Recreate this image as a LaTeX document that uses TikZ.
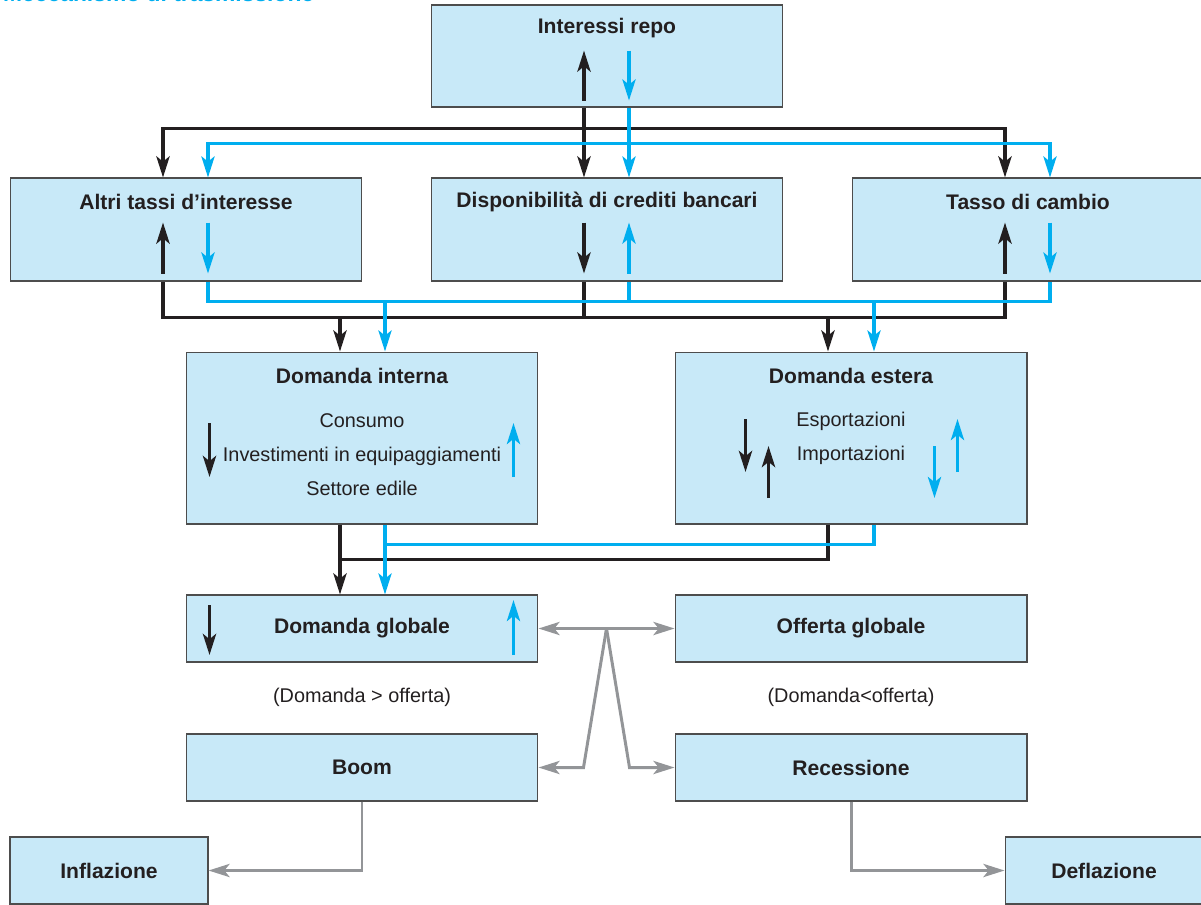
\documentclass[tikz,border=0pt]{standalone}
\usepackage{fontspec}
\setmainfont{Liberation Sans}
\usetikzlibrary{arrows.meta, positioning, calc}
\definecolor{boxfill}{HTML}{C8E9F8}
\definecolor{boxline}{HTML}{4D4D4D}
\definecolor{cyanline}{HTML}{00AEEF}
\definecolor{blackline}{HTML}{231F20}
\definecolor{grayline}{HTML}{939598}

\begin{document}
\begin{tikzpicture}[x=0.02cm, y=-0.02cm, >={Stealth[length=12pt, width=7.5pt, inset=3pt]},
    font=\fontsize{11.3}{13.5}\selectfont, text=blackline,
    box/.style={draw=boxline, line width=0.6pt, fill=boxfill, minimum width=7.04cm, inner sep=0pt},
    bold/.style={font=\fontsize{12}{14}\selectfont\bfseries},
    title/.style={anchor=center, yshift=-0.48cm, bold},
    list/.style={align=center, font=\fontsize{11.3}{19.3}\selectfont},
    blk/.style={draw=blackline, line width=2pt},
    cyn/.style={draw=cyanline, line width=1.8pt},
    gry/.style={draw=grayline, line width=1.7pt}]
    \useasboundingbox (0,0) rectangle (1201,904);

    % Heading, cut off at the top
    \node[anchor=base west, text=cyanline, font=\fontsize{13}{15}\selectfont\bfseries] (head) at (-3,1) {Meccanismo di trasmissione};

    % Repo rate and the three channels
    \node[box, minimum height=2.04cm, label={[title]north:Interessi repo}] (repo) at (607,56) {};
    \node[box, minimum height=2.06cm, label={[title]north:Altri tassi d’interesse}] (alt) at (186,229.5) {};
    \node[box, minimum height=2.06cm, label={[title]north:Disponibilità di crediti bancari}] (dis) at (607,229.5) {};
    \node[box, minimum height=2.06cm, label={[title]north:Tasso di cambio}] (tas) at (1028,229.5) {};

    % Demand
    \node[box, minimum height=3.44cm, label={[title]north:Domanda interna}] (int) at (362,438) {};
    \node[list] (intlist) at ($(int.center)+(0,17)$) {Consumo\\Investimenti in equipaggiamenti\\Settore edile};
    \node[box, minimum height=3.44cm, list, label={[title]north:Domanda estera}] (est) at (851,438) {Esportazioni\\Importazioni};

    % Aggregate demand and supply
    \node[box, minimum height=1.34cm, bold] (glo) at (362,628.5) {Domanda globale};
    \node[box, minimum height=1.34cm, bold] (off) at (851,628.5) {Offerta globale};
    \node (gt) at (362,697) {(Domanda > offerta)};
    \node (lt) at (851,697) {(Domanda<offerta)};
    \node[box, minimum height=1.34cm, bold] (boom) at (362,767.5) {Boom};
    \node[box, minimum height=1.34cm, bold] (rec) at (851,767.5) {Recessione};
    \node[box, minimum height=1.34cm, minimum width=3.96cm, bold] (inf) at (109,870.5) {Inflazione};
    \node[box, minimum height=1.34cm, minimum width=3.96cm, bold] (def) at (1104,870.5) {Deflazione};

    % From the repo rate to the channels
    \draw[blk, ->] ($(repo.south)+(-23,0)$) -- ($(dis.north)+(-23,0)$);
    \draw[blk, ->] ($(repo.south)+(-23,21)$) -| ($(alt.north)+(-23,0)$);
    \draw[blk, ->] ($(repo.south)+(-23,21)$) -| ($(tas.north)+(-23,0)$);
    \draw[cyn, ->] ($(repo.south)+(22,0)$) -- ($(dis.north)+(22,0)$);
    \draw[cyn, ->] ($(repo.south)+(22,36)$) -| ($(alt.north)+(22,0)$);
    \draw[cyn, ->] ($(repo.south)+(22,36)$) -| ($(tas.north)+(22,0)$);

    % From the channels to domestic and foreign demand
    \draw[blk] ($(alt.south)+(-23,0)$) |- ($(tas.south)+(-23,36)$) -- ($(tas.south)+(-23,0)$);
    \draw[blk] ($(dis.south)+(-23,0)$) -- ++(0,36);
    \draw[blk, ->] ($(int.north)+(-22,-35)$) -- ($(int.north)+(-22,0)$);
    \draw[blk, ->] ($(est.north)+(-23,-35)$) -- ($(est.north)+(-23,0)$);
    \draw[cyn] ($(alt.south)+(22,0)$) |- ($(tas.south)+(22,20)$) -- ($(tas.south)+(22,0)$);
    \draw[cyn] ($(dis.south)+(22,0)$) -- ++(0,20);
    \draw[cyn, ->] ($(int.north)+(23,-51)$) -- ($(int.north)+(23,0)$);
    \draw[cyn, ->] ($(est.north)+(23,-51)$) -- ($(est.north)+(23,0)$);

    % To aggregate demand
    \draw[blk] ($(est.south)+(-23,0)$) |- ($(int.south)+(-22,35)$);
    \draw[blk, ->] ($(int.south)+(-22,0)$) -- ($(glo.north)+(-22,0)$);
    \draw[cyn] ($(est.south)+(23,0)$) |- ($(int.south)+(23,20)$);
    \draw[cyn, ->] ($(int.south)+(23,0)$) -- ($(glo.north)+(23,0)$);

    % Boom or recession
    \coordinate (split) at ($(glo.east)!0.5!(off.west)$);
    \draw[gry, <->] (glo.east) -- (off.west);
    \draw[gry, ->] (split) -- ($(boom.east)+(45,0)$) -- (boom.east);
    \draw[gry, ->] (split) -- ($(rec.west)+(-45,0)$) -- (rec.west);
    \draw[gry, ->] (boom.south) |- (inf.east);
    \draw[gry, ->] (rec.south) |- (def.west);

    % Up and down marks inside the boxes
    \draw[blk, ->] ($(repo.south)+(-23,-7)$) -- ++(0,-50);
    \draw[cyn, ->] ($(repo.south)+(22,-57)$) -- ++(0,50);
    \draw[blk, ->] ($(alt.south)+(-23,-8)$) -- ++(0,-51);
    \draw[cyn, ->] ($(alt.south)+(22,-59)$) -- ++(0,51);
    \draw[blk, ->] ($(dis.south)+(-23,-59)$) -- ++(0,51);
    \draw[cyn, ->] ($(dis.south)+(22,-8)$) -- ++(0,-51);
    \draw[blk, ->] ($(tas.south)+(-23,-8)$) -- ++(0,-51);
    \draw[cyn, ->] ($(tas.south)+(22,-59)$) -- ++(0,51);
    \draw[blk, ->] ($(int.west)+(24,-15)$) -- ++(0,54);
    \draw[cyn, ->] ($(int.east)+(-25,39)$) -- ++(0,-54);
    \draw[blk, ->] ($(est.west)+(71,-19)$) -- ++(0,53);
    \draw[blk, ->] ($(est.west)+(94,60)$) -- ++(0,-52);
    \draw[cyn, ->] ($(est.east)+(-93,8)$) -- ++(0,52);
    \draw[cyn, ->] ($(est.east)+(-70,34)$) -- ++(0,-53);
    \draw[blk, ->] ($(glo.west)+(24,-23.5)$) -- ++(0,50);
    \draw[cyn, ->] ($(glo.east)+(-25,26.5)$) -- ++(0,-55);
\end{tikzpicture}
\end{document}
